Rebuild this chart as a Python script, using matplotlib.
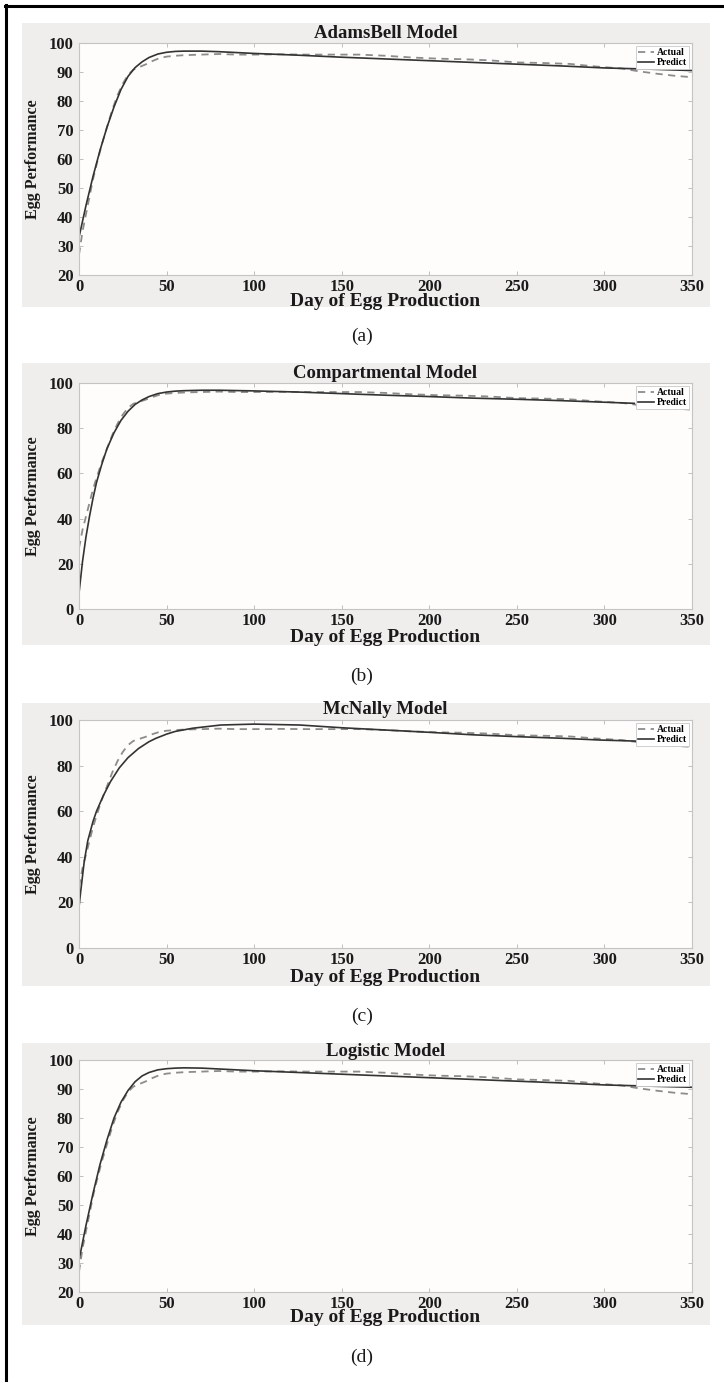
import matplotlib
matplotlib.use("Agg")
import matplotlib.pyplot as plt
from matplotlib.lines import Line2D
from matplotlib.patches import Rectangle

W, H = 724, 1383

# shared measured data (dashed "Actual")
actual_day = [0, 2, 4, 6, 8, 10, 13, 16, 19, 22, 25, 28, 31, 34, 38, 42, 46, 50, 55, 60,
              70, 80, 90, 100, 115, 130, 145, 160, 175, 190, 205, 220, 235, 250, 265, 280,
              295, 310, 320, 330, 340, 350]
actual_val = [27, 35, 41, 47, 53, 58, 65, 71, 77, 82, 86, 89, 90.8, 91.6, 92.6, 93.8, 94.8, 95.3, 95.6, 95.8,
              96, 96.2, 96, 96, 96.1, 96, 96, 96, 95.6, 95, 94.6, 94.4, 94, 93.3, 93.1, 92.8,
              91.9, 91.2, 90.2, 89.4, 88.7, 88.2]

# model predictions (solid "Predict")
adamsbell_day = [0, 4, 8, 12, 16, 20, 24, 28, 32, 36, 40, 45, 50, 55, 60, 70, 80, 100,
                 125, 150, 175, 200, 225, 250, 275, 300, 325, 350]
adamsbell_val = [33, 44, 54, 63, 71, 78, 84, 88.5, 91.5, 93.5, 95, 96.2, 96.8, 97.1, 97.2, 97.2, 97, 96.4,
                 95.8, 95.1, 94.5, 93.9, 93.3, 92.7, 92.1, 91.4, 91, 90.5]

compart_day = [0, 1, 2, 4, 6, 8, 10, 13, 16, 20, 24, 28, 32, 36, 40, 45, 50, 55, 60, 70, 80,
               100, 125, 150, 175, 200, 225, 250, 275, 300, 317]
compart_val = [7, 14, 21, 32, 41, 49, 56, 64, 71, 78, 83.5, 87.5, 90.5, 92.5, 94, 95.3, 96, 96.4, 96.6, 96.8, 96.8,
               96.5, 96, 95.3, 94.6, 94, 93.3, 92.8, 92.2, 91.5, 91]

mcnally_day = [0, 1, 3, 5, 8, 10, 14, 18, 23, 28, 34, 40, 44, 50, 55, 65, 81, 100, 126, 150,
               175, 200, 225, 250, 275, 298, 320]
mcnally_val = [18, 25, 38, 47, 55.5, 60, 67, 73, 79, 83.5, 87.5, 90.5, 92, 93.8, 95, 96.4, 97.8, 98.2, 97.8, 96.6,
               95.6, 94.6, 93.5, 92.7, 92, 91.2, 90.7]

logistic_day = [0, 4, 8, 12, 16, 20, 24, 28, 32, 36, 40, 45, 50, 55, 60, 70, 80, 100,
                125, 150, 175, 200, 225, 250, 275, 300, 325, 350]
logistic_val = [31, 43, 54, 64, 72.5, 80, 85.5, 89.5, 92.5, 94.5, 95.7, 96.6, 97, 97.2, 97.3, 97.2, 96.9, 96.3,
                95.7, 95.1, 94.5, 93.9, 93.3, 92.7, 92.1, 91.4, 91, 90.6]

titles = ["AdamsBell Model", "Compartmental Model", "McNally Model", "Logistic Model"]
captions = ["(a)", "(b)", "(c)", "(d)"]
y_ticks = [list(range(20, 101, 10)), list(range(0, 101, 20)),
           list(range(0, 101, 20)), list(range(20, 101, 10))]
x_ticks = list(range(0, 351, 50))
predictions = [(adamsbell_day, adamsbell_val), (compart_day, compart_val),
               (mcnally_day, mcnally_val), (logistic_day, logistic_val)]

# pixel layout of each panel: axes top/bottom, grey panel top/bottom, text rows
layout = [
    dict(ax=(43, 275), bg=(23, 307), title=33, xlab=301, cap=336),
    dict(ax=(383, 609), bg=(363, 645), title=373, xlab=637, cap=676),
    dict(ax=(720, 948), bg=(703, 986), title=710, xlab=977, cap=1016),
    dict(ax=(1060, 1292), bg=(1043, 1325), title=1051, xlab=1318, cap=1357),
]
AX_L, AX_R = 79, 692
BG_L, BG_R = 22, 710

SERIF = "Liberation Serif"
plt.rcParams["font.family"] = SERIF


def fx(x):
    return x / W


def fy(y):
    return 1 - y / H


fig = plt.figure(figsize=(W / 100, H / 100), dpi=100, facecolor="white")

# outer black frame (left and top edges)
fig.add_artist(Line2D([fx(6), fx(6)], [fy(5), fy(1380)], color="black", lw=2.2, transform=fig.transFigure))
fig.add_artist(Line2D([fx(5), fx(722)], [fy(6), fy(6)], color="black", lw=2.2, transform=fig.transFigure))

for i, spec in enumerate(layout):
    bg_top, bg_bot = spec["bg"]
    fig.add_artist(Rectangle((fx(BG_L), fy(bg_bot)), fx(BG_R) - fx(BG_L), (bg_bot - bg_top) / H,
                             transform=fig.transFigure, facecolor="#efeeec", edgecolor="none", zorder=0))

    top, bot = spec["ax"]
    ax = fig.add_axes([fx(AX_L), fy(bot), fx(AX_R) - fx(AX_L), (bot - top) / H])
    ax.set_facecolor("#fefdfb")

    ax.plot(actual_day, actual_val, linestyle=(0, (4, 3)), color="#8c8c8c", lw=1.3, label="Actual")
    day, val = predictions[i]
    ax.plot(day, val, linestyle="-", color="#333333", lw=1.2, label="Predict")

    ax.set_xlim(0, 350)
    ax.set_ylim(y_ticks[i][0], y_ticks[i][-1])
    ax.set_xticks(x_ticks)
    ax.set_yticks(y_ticks[i])
    ax.tick_params(direction="in", length=3, width=0.6, color="#b5b5b5",
                   top=True, right=True, labelsize=12, labelcolor="#1a1a1a")
    ax.tick_params(axis="x", pad=3)
    ax.tick_params(axis="y", pad=4)
    for lab in ax.get_xticklabels() + ax.get_yticklabels():
        lab.set_fontweight("bold")
    for sp in ax.spines.values():
        sp.set_color("#c4c4c4")
        sp.set_linewidth(0.8)

    leg = ax.legend(loc="upper right", prop={"family": SERIF, "weight": "bold", "size": 7},
                    frameon=True, fancybox=False, framealpha=1, edgecolor="#c8c8c8",
                    borderaxespad=0.35, borderpad=0.2, labelspacing=0.1,
                    handlelength=1.6, handletextpad=0.3)
    leg.get_frame().set_linewidth(0.6)

    cx = (AX_L + AX_R) / 2
    fig.text(fx(cx), fy(spec["title"]), titles[i], ha="center", va="center",
             fontsize=13.5, fontweight="bold", color="#1a1a1a")
    fig.text(fx(cx), fy(spec["xlab"]), "Day of Egg Production", ha="center", va="center",
             fontsize=14, fontweight="bold", color="#1a1a1a")
    fig.text(fx(33), fy((top + bot) / 2), "Egg Performance", ha="center", va="center",
             rotation=90, fontsize=11.5, fontweight="bold", color="#1a1a1a")
    fig.text(fx(362), fy(spec["cap"]), captions[i], ha="center", va="center",
             fontsize=14, color="#1a1a1a")

fig.savefig("out.png", dpi=100, facecolor="white")
